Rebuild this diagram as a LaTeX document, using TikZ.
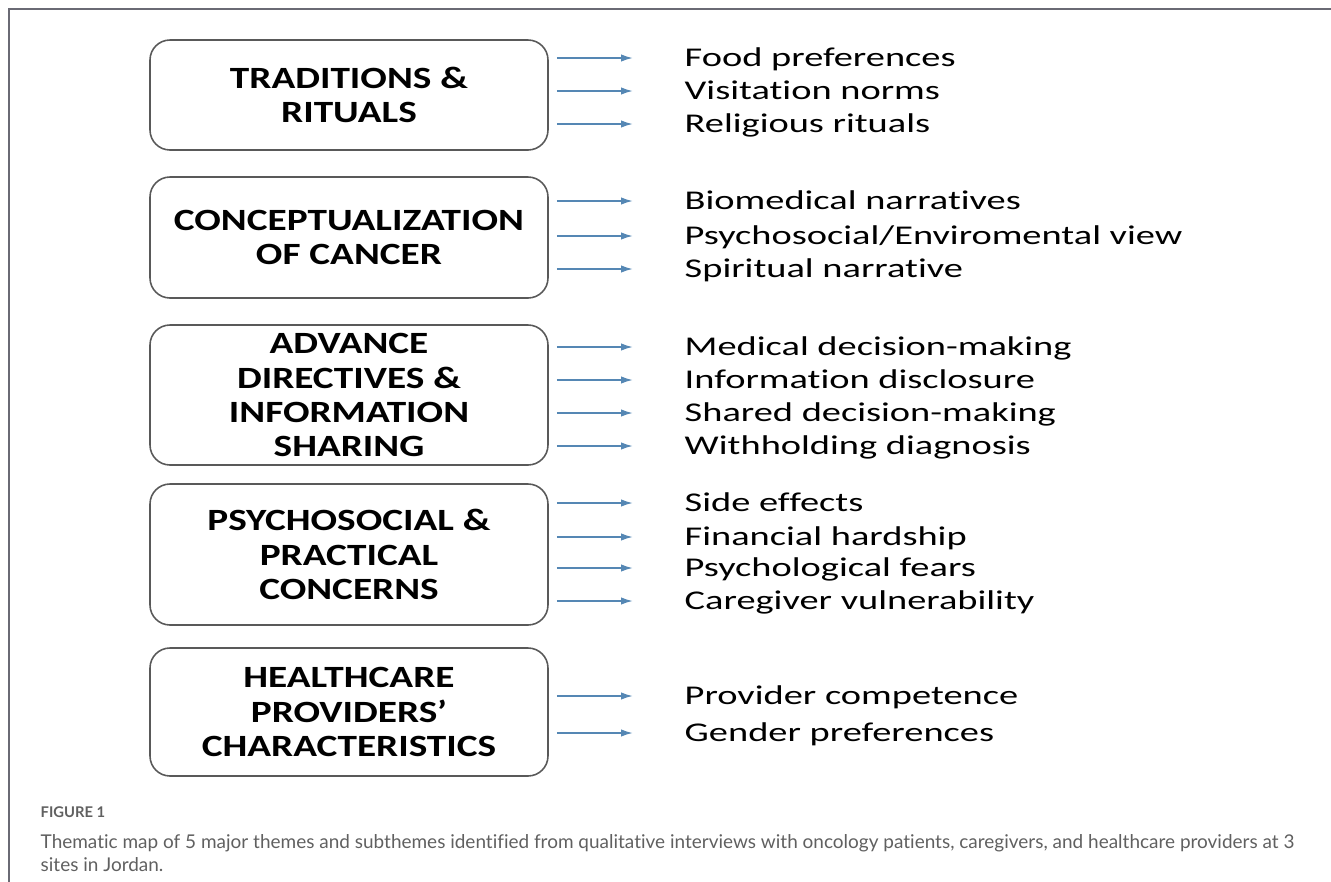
\documentclass[tikz,border=0pt]{standalone}
\usepackage{fontspec}
\setmainfont{Carlito}
\newfontfamily\themefont[FakeStretch=1.27,Ligatures=NoCommon]{Carlito}
\newfontfamily\subfont[FakeStretch=1.42,Ligatures=NoCommon]{Carlito}
\newfontfamily\capfont[Ligatures=NoCommon]{Lato}
\usetikzlibrary{arrows.meta}
\definecolor{framegray}{HTML}{6A6A74}
\definecolor{boxgray}{HTML}{595959}
\definecolor{arrowblue}{HTML}{5587B4}
\definecolor{capgray}{HTML}{606060}

\begin{document}
\begin{tikzpicture}[
    x=0.1mm,y=-0.1mm,
    theme/.style={draw=boxgray,line width=0.45pt,rounded corners=2mm,minimum width=39.8mm,
      align=center,inner sep=0pt,outer sep=0pt,font=\themefont\bfseries\fontsize{8.8}{9.7}\selectfont},
    sub/.style={anchor=west,inner sep=0pt,text height=5pt,text depth=0pt,
      font=\subfont\fontsize{7.7}{9}\selectfont},
    link/.style={arrowblue,line width=0.5pt,-{Latex[length=1.2mm,width=0.75mm]},
      shorten <=0.9mm,shorten >=5.1mm}
    ]
  \useasboundingbox (0,0) rectangle (1331,882);
  % frame (top and left edge only)
  \draw[framegray,line width=0.6pt] (9,882) -- (9,9) -- (1331,9);

  % themes
  \node[theme,minimum height=11mm] (trad) at (349,95) {TRADITIONS \&\\RITUALS};
  \node[theme,minimum height=12.1mm] (concept) at (349,237.5) {CONCEPTUALIZATION\\OF CANCER};
  \node[theme,minimum height=14mm] (advance) at (349,395) {ADVANCE\\DIRECTIVES \&\\INFORMATION\\SHARING};
  \node[theme,minimum height=14.1mm] (psycho) at (349,554.5) {PSYCHOSOCIAL \&\\PRACTICAL\\CONCERNS};
  \node[theme,minimum height=12.8mm] (provider) at (349,712) {HEALTHCARE\\PROVIDERS’\\CHARACTERISTICS};

  % subthemes
  \node[sub] (food) at (684,58) {Food preferences};
  \node[sub] (visit) at (684,91) {Visitation norms};
  \node[sub] (relig) at (684,124) {Religious rituals};

  \node[sub] (bio) at (684,201) {Biomedical narratives};
  \node[sub] (envir) at (684,236) {Psychosocial/Enviromental view};
  \node[sub] (spirit) at (684,269) {Spiritual narrative};

  \node[sub] (medical) at (684,347) {Medical decision-making};
  \node[sub] (disclose) at (684,380) {Information disclosure};
  \node[sub] (shared) at (684,413) {Shared decision-making};
  \node[sub] (withhold) at (684,446) {Withholding diagnosis};

  \node[sub] (side) at (684,503) {Side effects};
  \node[sub] (finance) at (684,537) {Financial hardship};
  \node[sub] (fears) at (684,568) {Psychological fears};
  \node[sub] (carer) at (684,601) {Caregiver vulnerability};

  \node[sub] (compet) at (684,696) {Provider competence};
  \node[sub] (gender) at (684,733) {Gender preferences};

  % arrows from each theme to its subthemes
  \foreach \t in {food,visit,relig} \draw[link] (trad.east |- \t.west) -- (\t.west);
  \foreach \t in {bio,envir,spirit} \draw[link] (concept.east |- \t.west) -- (\t.west);
  \foreach \t in {medical,disclose,shared,withhold} \draw[link] (advance.east |- \t.west) -- (\t.west);
  \foreach \t in {side,finance,fears,carer} \draw[link] (psycho.east |- \t.west) -- (\t.west);
  \foreach \t in {compet,gender} \draw[link] (provider.east |- \t.west) -- (\t.west);

  % caption
  \node[anchor=west,inner sep=0pt,text=capgray,font=\capfont\bfseries\fontsize{4.2}{5}\selectfont] (figlabel) at (40,812) {FIGURE 1};
  \node[anchor=north west,inner sep=0pt,align=left,text=capgray,font=\capfont\fontsize{5.4}{6.5}\selectfont] (caption) at (40,834)
    {Thematic map of 5 major themes and subthemes identified from qualitative interviews with oncology patients, caregivers, and healthcare providers at 3\\sites in Jordan.};
\end{tikzpicture}
\end{document}
